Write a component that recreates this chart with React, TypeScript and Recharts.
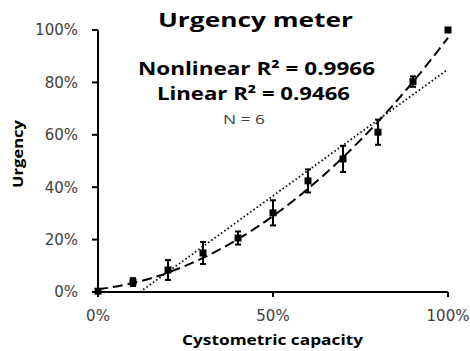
import React from "react";
import {
  ComposedChart,
  Line,
  Scatter,
  ErrorBar,
  XAxis,
  YAxis,
  Customized,
} from "recharts";

// Observed urgency (% of max) at each fill level of cystometric capacity
const capacity = [0, 10, 20, 30, 40, 50, 60, 70, 80, 90, 100];
const urgency = [0.3, 3.8, 8.4, 14.9, 20.6, 30.2, 42.4, 50.8, 61.0, 80.3, 100];
const urgencyErr = [0, 1.5, 3.8, 4.2, 2.5, 4.8, 4.4, 5.0, 4.8, 2.0, 0];

// Nonlinear fit curve
const nonlinearFit = [1, 3.4, 7.4, 13.0, 20.2, 29.0, 39.4, 51.4, 65.0, 80.2, 97.0];

// Linear fit, read at its two visible ends (dotted line)
const linearX = [12, 100];
const linearY = [0, 85];

const xTicks = [0, 50, 100];
const yTicks = [0, 20, 40, 60, 80, 100];

const data = capacity.map((x, i) => ({
  x,
  urgency: urgency[i],
  err: urgencyErr[i],
  fit: nonlinearFit[i],
}));

const linearData = linearX.map((x, i) => ({ x, lin: linearY[i] }));

const BOLD = "'Open Sans', sans-serif";
const TICK_FONT = "'DejaVu Sans', sans-serif";

const SquareDot = (props: any) => {
  const { cx, cy } = props;
  if (cx == null || cy == null) return null;
  return <rect x={cx - 3.5} y={cy - 3.5} width={7} height={7} fill="#000" />;
};

const Annotations = () => (
  <g>
    <text
      x={255.5}
      y={27}
      textAnchor="middle"
      fontFamily={BOLD}
      fontWeight={700}
      fontSize={20}
      textLength={195}
      lengthAdjust="spacingAndGlyphs"
      fill="#000"
    >
      Urgency meter
    </text>
    <text
      x={256.5}
      y={75}
      textAnchor="middle"
      fontFamily={BOLD}
      fontWeight={700}
      fontSize={18}
      textLength={237}
      lengthAdjust="spacingAndGlyphs"
      fill="#000"
    >
      Nonlinear R² = 0.9966
    </text>
    <text
      x={253.5}
      y={100}
      textAnchor="middle"
      fontFamily={BOLD}
      fontWeight={700}
      fontSize={18}
      textLength={193}
      lengthAdjust="spacingAndGlyphs"
      fill="#000"
    >
      Linear R² = 0.9466
    </text>
    <text
      x={244}
      y={124}
      textAnchor="middle"
      fontFamily={BOLD}
      fontSize={13}
      textLength={42}
      lengthAdjust="spacingAndGlyphs"
      fill="#404040"
    >
      N = 6
    </text>
    <text
      x={272.5}
      y={345}
      textAnchor="middle"
      fontFamily={BOLD}
      fontWeight={700}
      fontSize={14}
      textLength={181}
      lengthAdjust="spacingAndGlyphs"
      fill="#000"
    >
      Cystometric capacity
    </text>
    <text
      transform="rotate(-90)"
      x={-154}
      y={23}
      textAnchor="middle"
      fontFamily={BOLD}
      fontWeight={700}
      fontSize={15}
      textLength={68}
      lengthAdjust="spacingAndGlyphs"
      fill="#000"
    >
      Urgency
    </text>
  </g>
);

export default function App() {
  return (
    <div style={{ position: "absolute", left: 0, top: 0, background: "#fff" }}>
      <ComposedChart
        width={470}
        height={351}
        data={data}
        margin={{ top: 30, right: 22, bottom: 0, left: 0 }}
      >
        <XAxis
          dataKey="x"
          type="number"
          domain={[0, 100]}
          ticks={xTicks}
          tickFormatter={(v) => `${v}%`}
          height={59}
          axisLine={{ stroke: "#000", strokeWidth: 2 }}
          tickLine={{ stroke: "#000", strokeWidth: 2 }}
          tickSize={5}
          tickMargin={13}
          tick={{ fill: "#404040", fontSize: 15, fontFamily: TICK_FONT }}
        />
        <YAxis
          type="number"
          domain={[0, 100]}
          ticks={yTicks}
          tickFormatter={(v) => `${v}%`}
          width={98}
          axisLine={{ stroke: "#000", strokeWidth: 2 }}
          tickLine={{ stroke: "#000", strokeWidth: 2 }}
          tickSize={6}
          tickMargin={14}
          tick={{ fill: "#404040", fontSize: 15, fontFamily: TICK_FONT }}
        />
        <Line
          type="monotone"
          dataKey="fit"
          stroke="#000"
          strokeWidth={2}
          strokeDasharray="10 5"
          dot={false}
          isAnimationActive={false}
        />
        <Line
          data={linearData}
          type="linear"
          dataKey="lin"
          stroke="#000"
          strokeWidth={1.8}
          strokeDasharray="1.5 2.5"
          dot={false}
          isAnimationActive={false}
        />
        <Scatter dataKey="urgency" shape={SquareDot} isAnimationActive={false}>
          <ErrorBar
            dataKey="err"
            direction="y"
            width={3}
            stroke="#000"
            strokeWidth={2}
            isAnimationActive={false}
          />
        </Scatter>
        <Customized component={<Annotations />} />
      </ComposedChart>
    </div>
  );
}
